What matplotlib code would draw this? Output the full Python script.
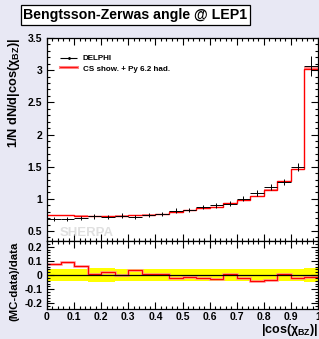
import numpy as np
import matplotlib
matplotlib.use("Agg")
import matplotlib.pyplot as plt

# |cos(chi_BZ)| bins, DELPHI data and Sherpa (CS shower + Py 6.2 hadronisation)
bin_edges = [0.00, 0.05, 0.10, 0.15, 0.20, 0.25, 0.30, 0.35, 0.40, 0.45, 0.50,
             0.55, 0.60, 0.65, 0.70, 0.75, 0.80, 0.85, 0.90, 0.95, 1.00]
data_vals = [0.690, 0.680, 0.695, 0.727, 0.720, 0.740, 0.720, 0.750, 0.760, 0.815,
             0.830, 0.870, 0.900, 0.925, 1.000, 1.090, 1.180, 1.260, 1.490, 3.060]
data_rel_err = [0.045, 0.045, 0.045, 0.050, 0.050, 0.045, 0.045, 0.045, 0.045, 0.045,
                0.040, 0.040, 0.040, 0.040, 0.040, 0.040, 0.040, 0.040, 0.040, 0.050]
mc_vals = [0.743, 0.744, 0.740, 0.734, 0.734, 0.740, 0.744, 0.754, 0.764, 0.799,
           0.820, 0.851, 0.872, 0.930, 0.981, 1.043, 1.138, 1.273, 1.457, 3.023]

title = "Bengtsson-Zerwas angle @ LEP1"
data_label = "DELPHI"
mc_label = "CS show. + Py 6.2 had."
ratio_ticks = [0, 0.1, 0.2, 0.3, 0.4, 0.5, 0.6, 0.7, 0.8, 0.9, 1]
ratio_ticklabels = ["0", "0.1", "0.2", "0.3", "0.4", "0.5", "0.6", "0.7", "0.8", "0.9", "1"]

plt.rcParams["font.family"] = ["Liberation Sans", "DejaVu Sans"]
plt.rcParams["font.weight"] = "bold"
plt.rcParams["mathtext.fontset"] = "custom"
plt.rcParams["mathtext.rm"] = "Liberation Sans:bold"
plt.rcParams["mathtext.it"] = "Liberation Sans:bold"
plt.rcParams["mathtext.bf"] = "Liberation Sans:bold"

BG = "#e8e8f4"
edges = np.array(bin_edges)
centers = 0.5 * (edges[1:] + edges[:-1])
half = 0.5 * np.diff(edges)
data = np.array(data_vals)
derr = data * np.array(data_rel_err)
mc = np.array(mc_vals)
ratio = (mc - data) / data
rel = np.array(data_rel_err)

fig = plt.figure(figsize=(3.19, 3.39), dpi=100, facecolor=BG)
W, H = 319.0, 339.0
ax = fig.add_axes([47 / W, (H - 241) / H, 271 / W, 203 / H])
axr = fig.add_axes([47 / W, (H - 309) / H, 271 / W, 68 / H])


def style(a):
    a.tick_params(which="both", direction="in", top=True, right=True,
                  labelsize=7.5, width=0.8)
    a.tick_params(which="major", length=5)
    a.tick_params(which="minor", length=2.5)
    for s in a.spines.values():
        s.set_linewidth(0.9)


# main panel
mc_lo = np.append(mc * 0.992, mc[-1] * 0.992)
mc_hi = np.append(mc * 1.008, mc[-1] * 1.008)
ax.fill_between(edges, mc_lo, mc_hi, step="post", color="#ff9090", lw=0)
ax.stairs(mc, edges, color="red", lw=1.0, baseline=None)
ax.errorbar(centers, data, xerr=half, yerr=derr, fmt="none", ecolor="black",
            elinewidth=0.7, capsize=0)
ax.set_xlim(0, 1)
ax.set_ylim(0.345, 3.5)
ax.set_xticks(np.arange(0, 1.01, 0.1))
ax.set_xticks(np.arange(0, 1.001, 0.02), minor=True)
ax.set_yticks([0.5, 1, 1.5, 2, 2.5, 3, 3.5])
ax.set_yticklabels(["0.5", "1", "1.5", "2", "2.5", "3", "3.5"])
ax.set_yticks(np.arange(0.4, 3.51, 0.1), minor=True)
ax.tick_params(labelbottom=False)
style(ax)

# legend drawn by hand
ax.errorbar([0.08], [3.19], xerr=[0.031], yerr=[0.02], fmt="none", ecolor="black",
            elinewidth=0.8, capsize=0)
ax.plot([0.08], [3.19], marker=".", color="black", ms=2)
ax.plot([0.049, 0.111], [3.045, 3.045], color="#ff8080", lw=2.2)
ax.plot([0.049, 0.111], [3.045, 3.045], color="red", lw=0.6)
ax.text(0.132, 3.18, data_label, fontsize=5.8, va="center", ha="left")
ax.text(0.132, 3.01, mc_label, fontsize=5.8, va="center", ha="left")
ax.text(0.048, 0.37, "SHERPA", fontsize=9.5, color="#e0e0e0", va="bottom", ha="left")

# ratio panel
lo = np.append(-rel, -rel[-1])
hi = np.append(rel, rel[-1])
axr.fill_between(edges, lo, hi, step="post", color="#ffff00", lw=0)
axr.axhline(0, color="black", lw=0.9)
axr.stairs(ratio, edges, color="#ff9090", lw=1.8, baseline=None)
axr.stairs(ratio, edges, color="red", lw=0.8, baseline=None)
axr.set_xlim(0, 1)
axr.set_ylim(-0.24, 0.24)
axr.set_xticks(ratio_ticks)
axr.set_xticklabels(ratio_ticklabels)
axr.set_xticks(np.arange(0, 1.001, 0.02), minor=True)
axr.set_yticks([-0.2, -0.1, 0, 0.1, 0.2])
axr.set_yticklabels(["-0.2", "-0.1", "0", "0.1", "0.2"])
axr.set_yticks(np.arange(-0.22, 0.221, 0.02), minor=True)
style(axr)
axr.tick_params(axis="x", pad=2.5)

# axis titles and plot title
fig.text(14 / W, 1 - 38 / H, r"1/N dN/d|cos($\chi_{BZ}$)|", rotation=90,
         fontsize=9.2, ha="center", va="top")
fig.text(14 / W, 1 - 281 / H, "(MC-data)/data", rotation=90,
         fontsize=8.2, ha="center", va="center")
fig.text(318 / W, 1 - 338 / H, r"|cos($\chi_{BZ}$)|", fontsize=9,
         ha="right", va="bottom")
fig.text(135.5 / W, 1 - 15 / H, title, fontsize=10.2, ha="center", va="center",
         bbox=dict(boxstyle="square,pad=0.2", facecolor="white",
                   edgecolor="black", lw=0.9))

fig.savefig("out.png", dpi=100, facecolor=BG)
